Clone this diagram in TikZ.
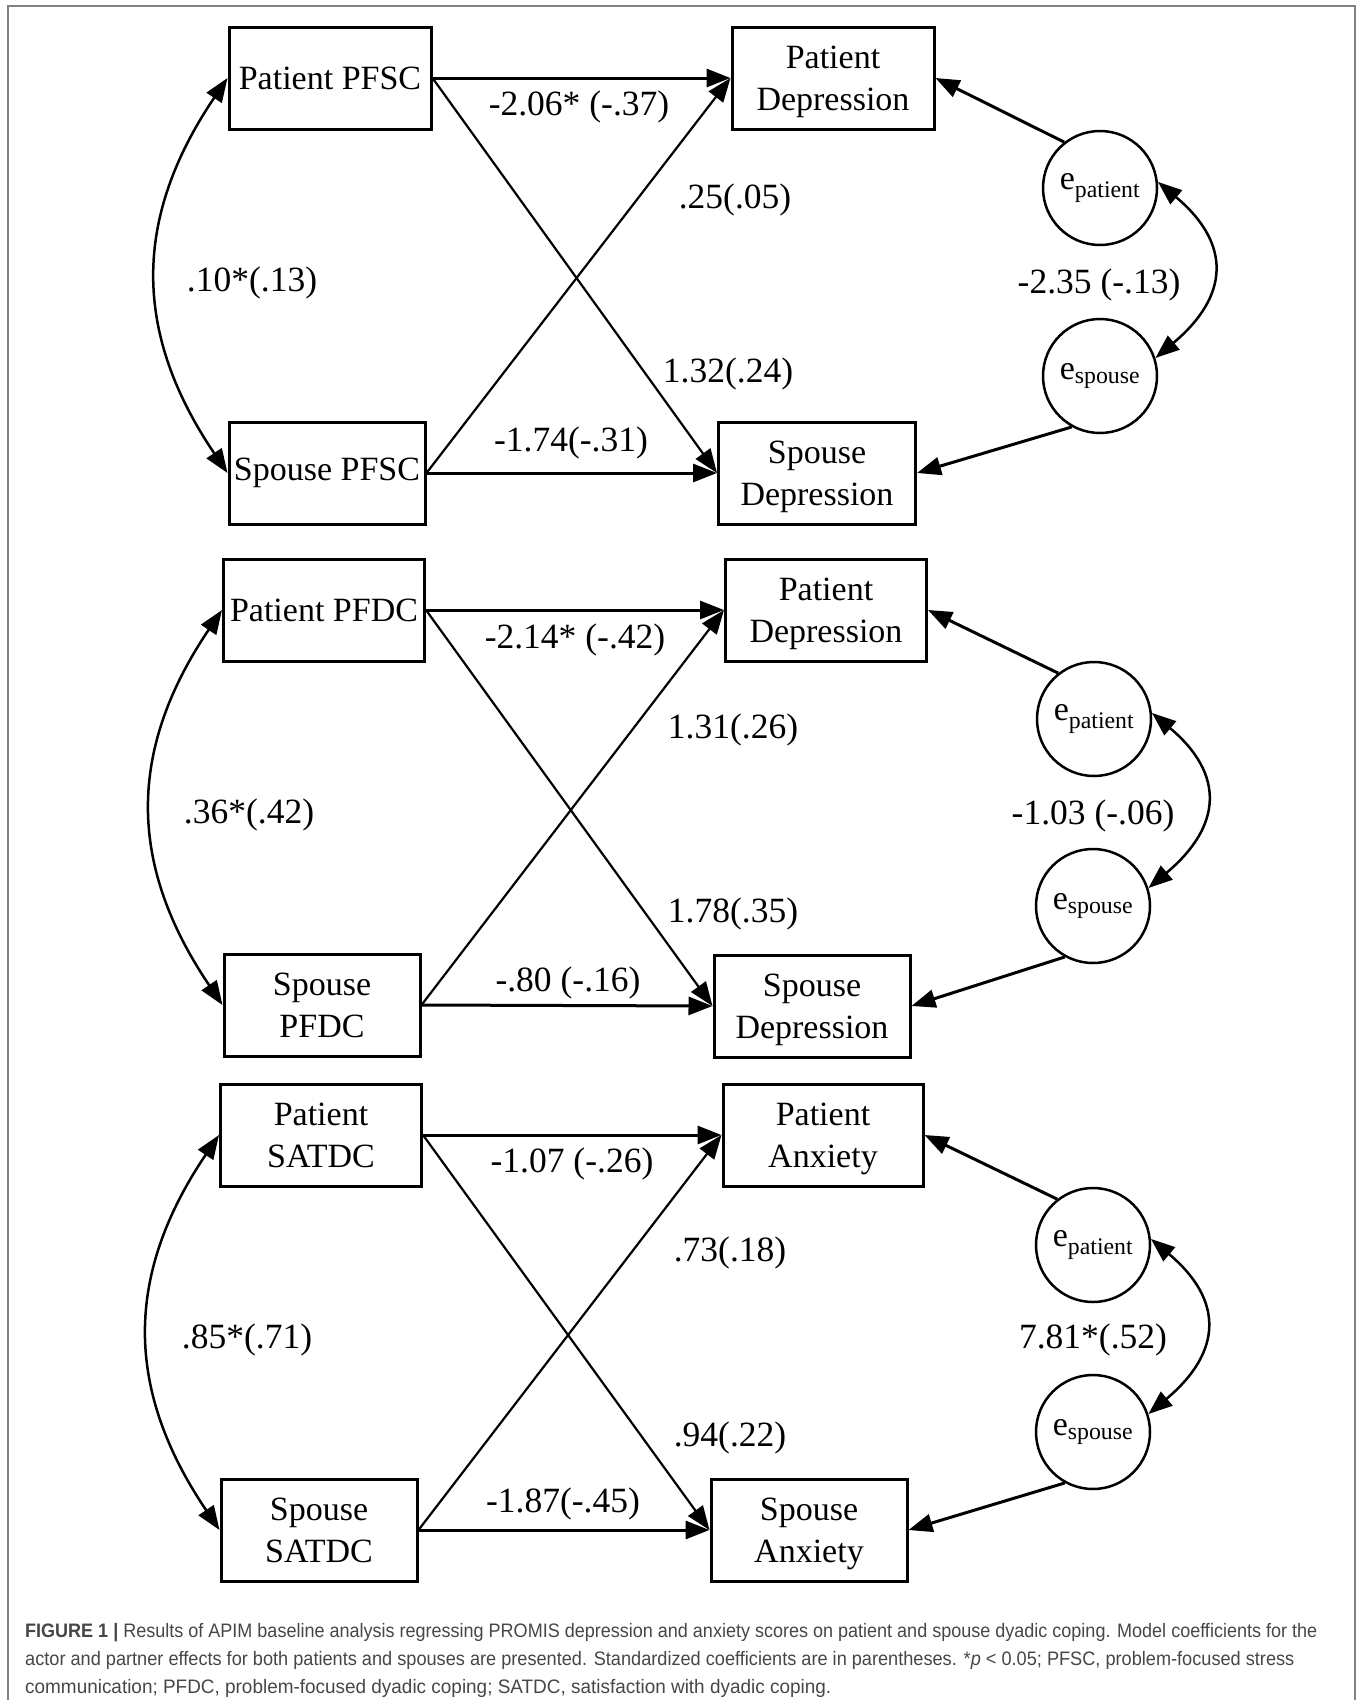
\documentclass[tikz,border=0pt]{standalone}
\usepackage{fontspec}
\usepackage{graphicx}
\setmainfont{Liberation Serif}
\newfontfamily\leyenda{Liberation Sans}
\usetikzlibrary{arrows.meta}

\definecolor{textoleyenda}{RGB}{70,70,70}
\definecolor{marco}{RGB}{130,130,130}

% renglon de la leyenda ajustado al ancho
\newcommand{\renglon}[2]{\resizebox{#1}{\height}{#2}}

\tikzset{
  caja/.style={draw, line width=3pt, minimum height=102pt, inner sep=0pt, align=center, font=\fontsize{34}{42}\selectfont},
  doble/.style={text depth=0pt},
  residuo/.style={draw, circle, line width=2.5pt, minimum size=114pt, inner sep=0pt, font=\fontsize{34}{42}\selectfont},
  coef/.style={font=\fontsize{35.5}{42}\selectfont},
  efecto/.style={->, line width=3pt},
  cruce/.style={->, line width=2.2pt},
  covar/.style={<->, line width=2.5pt},
  linea/.style={anchor=base west, inner sep=0pt, text=textoleyenda, font=\leyenda\fontsize{19.5}{24}\selectfont},
}

\begin{document}
\begin{tikzpicture}[x=1pt, y=-1pt, >={Triangle[length=24pt, width=18pt]}]
  \useasboundingbox (0,0) rectangle (1363,1700);
  \draw[marco, line width=2pt] (8,1700) -- (8,6) -- (1355,6) -- (1355,1700);

  % Modelo 1: PFSC y depresion
  \node[caja, minimum width=202pt] (ppfsc) at (330,78) {Patient PFSC};
  \node[caja, minimum width=196pt] (spfsc) at (327,473) {Spouse PFSC};
  \node[caja, doble, minimum width=202pt] (pdep1) at (833,78) {Patient\\Depression};
  \node[caja, doble, minimum width=197pt] (sdep1) at (817,473) {Spouse\\Depression};
  \node[residuo] (epat1) at (1100,188) {e\textsubscript{patient}};
  \node[residuo] (espo1) at (1100,376) {e\textsubscript{spouse}};

  \draw[efecto] (ppfsc.east) -- (pdep1.west);
  \draw[efecto] (spfsc.east) -- (sdep1.west);
  \draw[cruce] (ppfsc.east) -- (sdep1.west);
  \draw[cruce] (spfsc.east) -- (pdep1.west);
  \draw[efecto] (epat1.128) -- (pdep1.east);
  \draw[efecto] (espo1.241) -- (sdep1.east);
  \draw[covar] (ppfsc.west) to[out=236, in=124, looseness=1.1] (spfsc.west);
  \draw[covar] (epat1.6) to[out=-40, in=40, looseness=1.4] (espo1.18);

  \node[coef] (a11) at (579,107) {-2.06* (-.37)};
  \node[coef] (a12) at (735,200) {.25(.05)};
  \node[coef] (r1) at (252,283) {.10*(.13)};
  \node[coef] (a21) at (728,374) {1.32(.24)};
  \node[coef] (a22) at (571,443) {-1.74(-.31)};
  \node[coef] (re1) at (1099,285) {-2.35 (-.13)};

  % Modelo 2: PFDC y depresion
  \node[caja, minimum width=201pt] (ppfdc) at (324,610) {Patient PFDC};
  \node[caja, doble, minimum width=196pt] (spfdc) at (322,1005) {Spouse\\PFDC};
  \node[caja, doble, minimum width=201pt] (pdep2) at (826,610) {Patient\\Depression};
  \node[caja, doble, minimum width=196pt] (sdep2) at (812,1006) {Spouse\\Depression};
  \node[residuo] (epat2) at (1094,719) {e\textsubscript{patient}};
  \node[residuo] (espo2) at (1093,906) {e\textsubscript{spouse}};

  \draw[efecto] (ppfdc.east) -- (pdep2.west);
  \draw[efecto] (spfdc.east) -- (sdep2.west);
  \draw[cruce] (ppfdc.east) -- (sdep2.west);
  \draw[cruce] (spfdc.east) -- (pdep2.west);
  \draw[efecto] (epat2.128) -- (pdep2.east);
  \draw[efecto] (espo2.241) -- (sdep2.east);
  \draw[covar] (ppfdc.west) to[out=236, in=124, looseness=1.1] (spfdc.west);
  \draw[covar] (epat2.6) to[out=-40, in=40, looseness=1.4] (espo2.18);

  \node[coef] (b11) at (575,640) {-2.14* (-.42)};
  \node[coef] (b12) at (733,730) {1.31(.26)};
  \node[coef] (r2) at (249,815) {.36*(.42)};
  \node[coef] (b21) at (733,914) {1.78(.35)};
  \node[coef] (b22) at (568,983) {-.80 (-.16)};
  \node[coef] (re2) at (1093,816) {-1.03 (-.06)};

  % Modelo 3: SATDC y ansiedad
  \node[caja, doble, minimum width=201pt] (psatdc) at (321,1135) {Patient\\SATDC};
  \node[caja, doble, minimum width=196pt] (ssatdc) at (319,1530) {Spouse\\SATDC};
  \node[caja, doble, minimum width=200pt] (panx) at (823,1135) {Patient\\Anxiety};
  \node[caja, doble, minimum width=196pt] (sanx) at (809,1530) {Spouse\\Anxiety};
  \node[residuo] (epat3) at (1093,1245) {e\textsubscript{patient}};
  \node[residuo] (espo3) at (1093,1432) {e\textsubscript{spouse}};

  \draw[efecto] (psatdc.east) -- (panx.west);
  \draw[efecto] (ssatdc.east) -- (sanx.west);
  \draw[cruce] (psatdc.east) -- (sanx.west);
  \draw[cruce] (ssatdc.east) -- (panx.west);
  \draw[efecto] (epat3.128) -- (panx.east);
  \draw[efecto] (espo3.241) -- (sanx.east);
  \draw[covar] (psatdc.west) to[out=236, in=124, looseness=1.1] (ssatdc.west);
  \draw[covar] (epat3.6) to[out=-40, in=40, looseness=1.4] (espo3.18);

  \node[coef] (c11) at (572,1164) {-1.07 (-.26)};
  \node[coef] (c12) at (730,1253) {.73(.18)};
  \node[coef] (r3) at (247,1340) {.85*(.71)};
  \node[coef] (c21) at (730,1438) {.94(.22)};
  \node[coef] (c22) at (563,1504) {-1.87(-.45)};
  \node[coef] (re3) at (1093,1340) {7.81*(.52)};

  % Leyenda
  \node[linea] (ley1) at (25,1637) {\renglon{1292pt}{\textbf{FIGURE 1 |} Results of APIM baseline analysis regressing PROMIS depression and anxiety scores on patient and spouse dyadic coping. Model coefficients for the}};
  \node[linea] (ley2) at (25,1665) {\renglon{1269pt}{actor and partner effects for both patients and spouses are presented. Standardized coefficients are in parentheses. *\textit{p} < 0.05; PFSC, problem-focused stress}};
  \node[linea] (ley3) at (25,1693) {\renglon{806pt}{communication; PFDC, problem-focused dyadic coping; SATDC, satisfaction with dyadic coping.}};
\end{tikzpicture}
\end{document}
